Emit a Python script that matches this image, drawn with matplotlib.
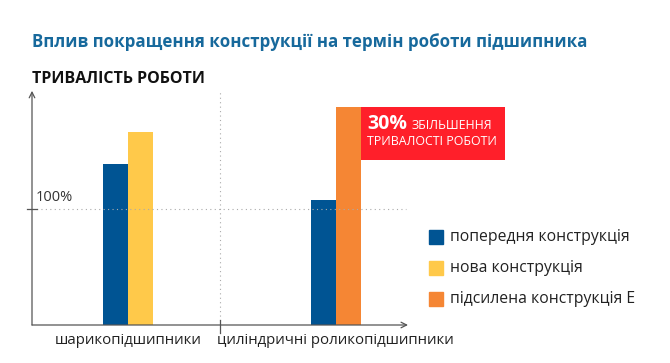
import matplotlib.pyplot as plt
from matplotlib.patches import Rectangle

# дані
categories = ['шарикопідшипники', 'циліндричні роликопідшипники']
series = ['попередня конструкція', 'нова конструкція', 'підсилена конструкція E']
old_design = [139, 108]
new_design = [166, None]
reinforced = [None, 188]
colors = ['#005493', '#FFC94A', '#F58634']

plt.rcParams['font.family'] = ['Open Sans', 'DejaVu Sans']

fig = plt.figure(figsize=(6.7, 3.63), dpi=100)
W, H = 670, 363
ax = fig.add_axes([32 / W, 38 / H, 376 / W, 233 / H])


def fx(px):
    return px / W


def fy(py):
    return 1 - py / H


bw = 0.12
ax.bar(0 - bw / 2, old_design[0], bw, color=colors[0])
ax.bar(0 + bw / 2, new_design[0], bw, color=colors[1])
ax.bar(1 - bw / 2, old_design[1], bw, color=colors[0])
ax.bar(1 + bw / 2, reinforced[1], bw, color=colors[2])

ax.set_xlim(-0.4615, 1.346)
ax.set_ylim(0, 200.9)
for s in ax.spines.values():
    s.set_visible(False)
ax.set_xticks([])
ax.set_yticks([])

# осі зі стрілками
ax.annotate('', xy=(0, 1.005), xytext=(0, 0), xycoords='axes fraction',
            arrowprops=dict(arrowstyle='->', color='#555555', lw=0.9, shrinkA=0, shrinkB=0))
ax.annotate('', xy=(1.0, 0), xytext=(0, 0), xycoords='axes fraction',
            arrowprops=dict(arrowstyle='->', color='#555555', lw=0.9, shrinkA=0, shrinkB=0))

# сітка
ax.axhline(100, color='#aaaaaa', lw=0.8, ls=(0, (1, 3)), xmax=0.995)
ax.axvline(0.442, color='#aaaaaa', lw=0.8, ls=(0, (1, 3)))
ax.plot([-0.4615 - 0.024, -0.4615 + 0.024], [100, 100], color='#555555', lw=0.9, clip_on=False)
ax.plot([0.442, 0.442], [-7, 4], color='#555555', lw=0.9, clip_on=False)
fig.text(fx(36), fy(198), '100%', fontsize=10.5, color='#333333', va='center', ha='left')

for i, c in enumerate(categories):
    fig.text(fx([128, 335][i]), fy(341), c, fontsize=10.8, color='#222222',
             ha='center', va='center')

# червона плашка
x0 = 1 + bw
ax.add_patch(Rectangle((x0, 142), 0.69, reinforced[1] - 142, color='#FF1F2A',
                       clip_on=False, lw=0))
fig.text(fx(367), fy(129), '30%', fontsize=14, fontweight='bold', color='white',
         va='baseline')
fig.text(fx(412), fy(129), 'ЗБІЛЬШЕННЯ', fontsize=8.9, color='white', va='baseline')
fig.text(fx(367), fy(145), 'ТРИВАЛОСТІ РОБОТИ', fontsize=8.9, color='white', va='baseline')

fig.text(fx(32), fy(42), 'Вплив покращення конструкції на термін роботи підшипника',
         fontsize=12.2, fontweight='bold', color='#17699C', va='center')
fig.text(fx(32), fy(79), 'ТРИВАЛІСТЬ РОБОТИ', fontsize=11.5, fontweight='bold',
         color='#111111', va='center')

# легенда
for k, (name, col) in enumerate(zip(series, colors)):
    yc = fy(237 + 31 * k)
    fig.patches.append(Rectangle((fx(429), yc - 7 / H), 14 / W, 14 / H, color=col,
                                 transform=fig.transFigure, figure=fig))
    fig.text(fx(450), yc, name, fontsize=11.3, color='#222222', va='center')

fig.savefig('out.png', dpi=100)
